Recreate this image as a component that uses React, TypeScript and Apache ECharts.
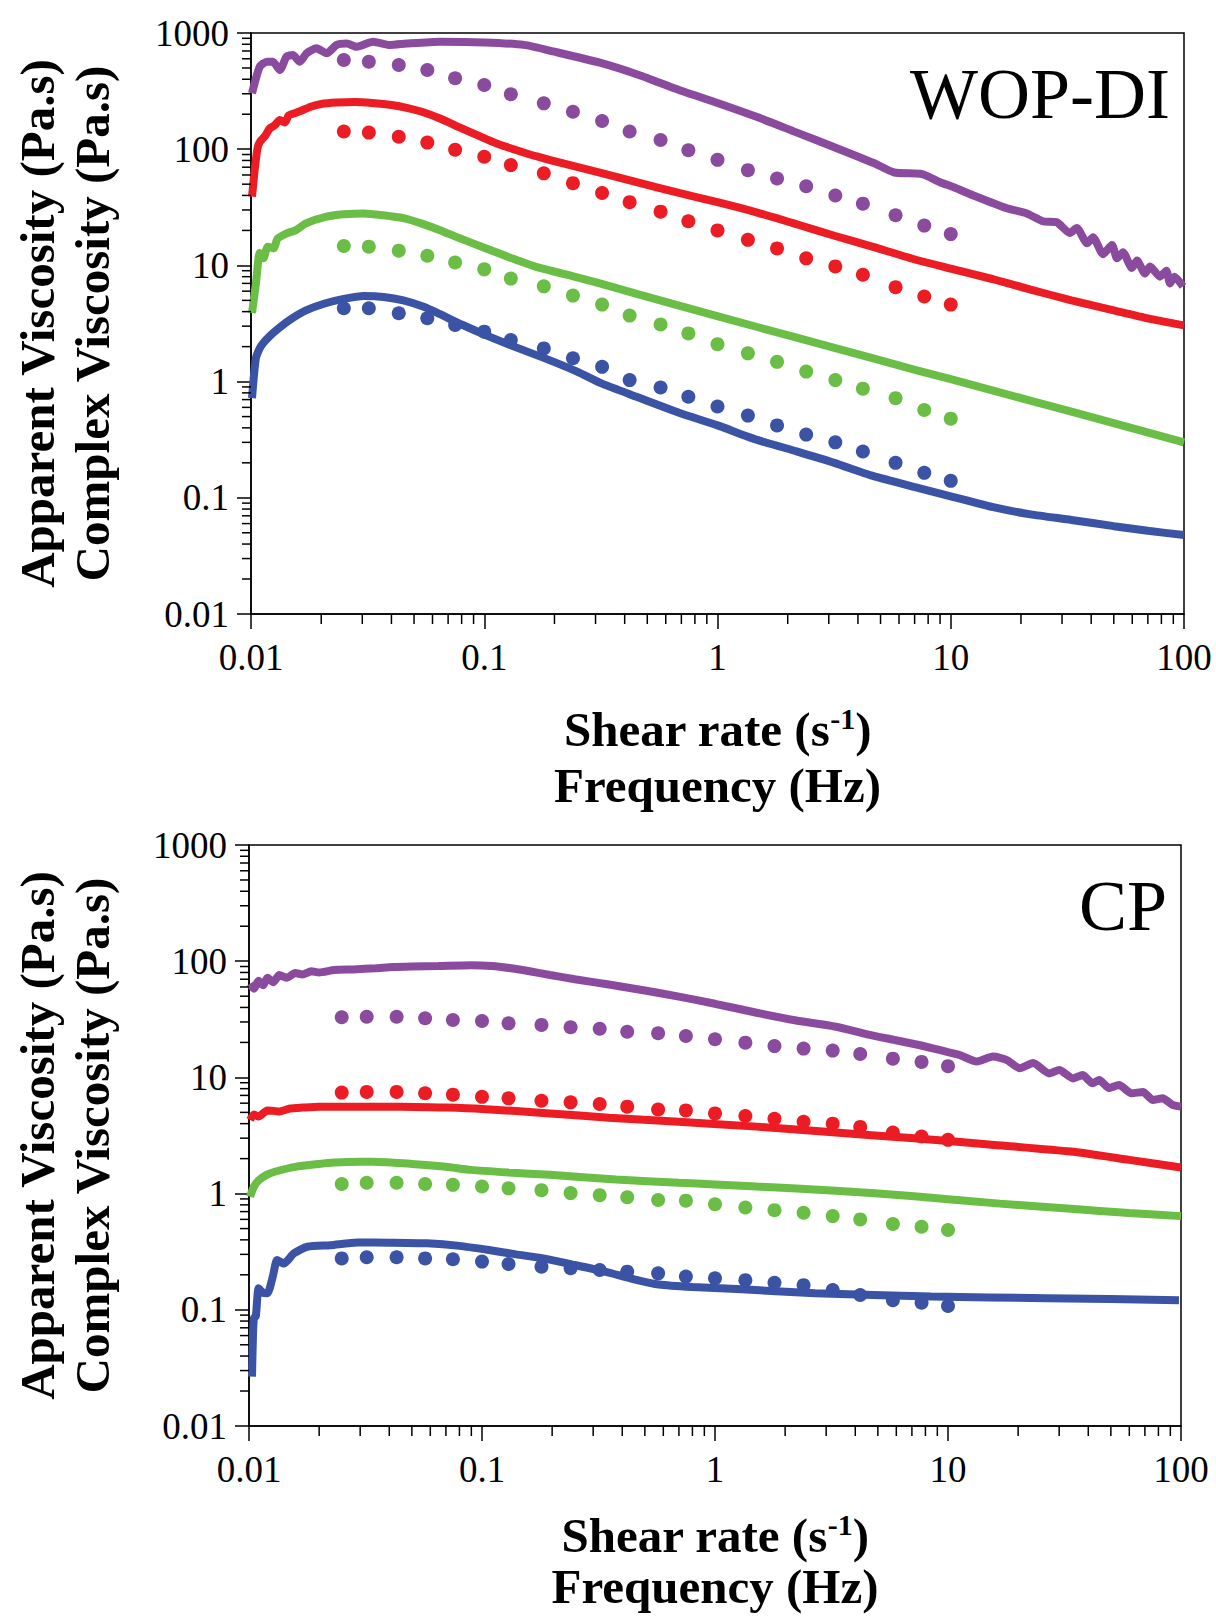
import React, { useEffect, useRef } from "react";
import * as echarts from "echarts";

const SERIF = "'Liberation Serif', 'Times New Roman', Times, serif";
const C_PURPLE = "#8a4b9e";
const C_RED = "#ec1c24";
const C_GREEN = "#6abd45";
const C_BLUE = "#3a53a4";

const xTickLabels = ["0.01", "0.1", "1", "10", "100"];
const yTickLabels = ["0.01", "0.1", "1", "10", "100", "1000"];
const xMinorDecades = [0.01, 0.1, 1, 10];
const yMinorDecades = [0.01, 0.1, 1, 10, 100];
const minorSteps = [2, 3, 4, 5, 6, 7, 8, 9];

const panelNames = ["WOP-DI", "CP"];
const yTitle1 = "Apparent Viscosity (Pa.s)";
const yTitle2 = "Complex Viscosity (Pa.s)";
const xTitle2 = "Frequency (Hz)";

// frequencies of the oscillatory (dot) measurements
const dotFreq = [0.025, 0.032, 0.043, 0.057, 0.075, 0.1, 0.13, 0.18, 0.24, 0.32, 0.42, 0.57, 0.75, 1.0, 1.35, 1.8, 2.4, 3.2, 4.2, 5.8, 7.7, 10];

// ---------- WOP-DI (top) ----------
const topPurpleDots = [586, 566, 530, 480, 408, 357, 297, 248, 210, 175, 142, 120, 98, 81, 66, 56, 48, 40, 34, 27, 22, 18.6];
const topRedDots = [142, 139, 128, 114, 99, 86, 73, 62, 51, 42, 35, 29, 24, 20, 16.6, 14, 11.5, 9.8, 8.3, 6.5, 5.4, 4.6];
const topGreenDots = [14.7, 14.5, 13.4, 12.1, 10.6, 9.25, 7.7, 6.6, 5.5, 4.6, 3.7, 3.1, 2.6, 2.1, 1.75, 1.48, 1.22, 1.03, 0.87, 0.72, 0.57, 0.48];
const topBlueDots = [4.28, 4.28, 3.87, 3.51, 3.07, 2.69, 2.28, 1.93, 1.59, 1.34, 1.03, 0.89, 0.74, 0.61, 0.51, 0.42, 0.35, 0.3, 0.25, 0.2, 0.164, 0.14];

const topPurpleLine = [
  [0.0101, 303], [0.0109, 513], [0.0117, 566], [0.0124, 566], [0.0133, 481], [0.0142, 625], [0.0151, 647],
  [0.0162, 566], [0.0173, 668], [0.0191, 738], [0.0211, 668], [0.0233, 789], [0.0257, 811], [0.0284, 762],
  [0.0333, 842], [0.0394, 789], [0.0465, 811], [0.0645, 842], [0.1, 830], [0.148, 790], [0.2, 690],
  [0.313, 555], [0.46, 435], [0.684, 323], [1.0, 250], [1.48, 189], [2.15, 141], [3.17, 104], [4.68, 76],
  [5.72, 63], [7.54, 61], [9.0, 52], [10.3, 47], [12.5, 40], [17.4, 31], [21.2, 28], [24.8, 24], [28.5, 23.5],
  [32.4, 19], [34.7, 21], [38.4, 15.5], [40.7, 17.5], [45, 12.5], [49.1, 15], [51.6, 11.5], [54.7, 13],
  [59.8, 9.5], [62.9, 11], [68, 8.5], [71.5, 9.8], [78.9, 8.0], [84, 9.0], [87.1, 7.0], [91, 8.0], [99, 6.6],
];
const topRedLine = [
  [0.0101, 39], [0.0104, 70], [0.0107, 105], [0.011, 118], [0.0115, 130], [0.012, 150], [0.0126, 160],
  [0.0133, 178], [0.014, 170], [0.0145, 195], [0.0155, 205], [0.0165, 215], [0.018, 232], [0.02, 245],
  [0.0233, 252], [0.028, 255], [0.033, 250], [0.04, 240], [0.047, 226], [0.054, 210], [0.065, 183],
  [0.078, 155], [0.095, 130], [0.113, 112], [0.14, 97], [0.167, 87], [0.22, 75], [0.313, 63], [0.45, 52],
  [0.684, 42], [1.0, 35], [1.48, 28.5], [2.2, 22.5], [3.17, 18], [4.6, 14.5], [6.96, 11.3], [10, 9.4],
  [15.2, 7.6], [22, 6.2], [32.9, 5.0], [50, 4.1], [70, 3.5], [100, 3.05],
];
const topGreenLine = [
  [0.0101, 3.9], [0.0105, 7], [0.0109, 12.8], [0.0113, 11.5], [0.0118, 14.5], [0.0125, 14], [0.013, 17],
  [0.0143, 19], [0.0155, 20], [0.0172, 23], [0.0207, 26], [0.025, 27.5], [0.0305, 28], [0.0368, 27],
  [0.045, 25.5], [0.0536, 23], [0.065, 20], [0.078, 17.2], [0.1, 14.2], [0.13, 11.6], [0.167, 9.7], [0.25, 7.9],
  [0.313, 7.0], [0.684, 4.5], [1.48, 2.95], [3.17, 1.95], [6.96, 1.27], [10, 1.05], [22.3, 0.68], [46, 0.46],
  [100, 0.3],
];
const topBlueLine = [
  [0.0101, 0.72], [0.0105, 1.6], [0.011, 2.0], [0.012, 2.45], [0.0135, 3.0], [0.015, 3.5], [0.0172, 4.1],
  [0.0207, 4.7], [0.025, 5.15], [0.0305, 5.45], [0.037, 5.35], [0.045, 5.0], [0.055, 4.4], [0.0646, 3.8],
  [0.08, 3.1], [0.102, 2.5], [0.13, 2.05], [0.18, 1.6], [0.25, 1.22], [0.32, 0.96], [0.45, 0.74],
  [0.684, 0.54], [1.0, 0.42], [1.48, 0.315], [2.2, 0.25], [3.17, 0.2], [4.6, 0.155], [6.96, 0.124],
  [10, 0.103], [15.2, 0.083], [22, 0.072], [32.9, 0.0645], [50, 0.057], [70, 0.052], [100, 0.0478],
];

// ---------- CP (bottom) ----------
const botPurpleDots = [32.9, 33.3, 33.3, 32.3, 31.2, 30.6, 29.2, 28.3, 27.0, 26.2, 24.7, 24.0, 22.7, 21.3, 19.9, 18.6, 17.7, 17.0, 15.9, 14.5, 13.6, 12.5];
const botRedDots = [7.4, 7.5, 7.5, 7.3, 7.1, 6.8, 6.6, 6.3, 6.1, 5.9, 5.6, 5.3, 5.2, 4.9, 4.65, 4.4, 4.15, 4.0, 3.75, 3.35, 3.1, 2.9];
const botGreenDots = [1.21, 1.24, 1.24, 1.21, 1.19, 1.15, 1.11, 1.07, 1.01, 0.97, 0.93, 0.88, 0.87, 0.81, 0.76, 0.72, 0.685, 0.64, 0.6, 0.547, 0.519, 0.486];
const botBlueDots = [0.277, 0.283, 0.283, 0.277, 0.272, 0.26, 0.248, 0.235, 0.228, 0.22, 0.213, 0.206, 0.193, 0.187, 0.18, 0.171, 0.163, 0.148, 0.134, 0.121, 0.115, 0.108];

const botPurpleLine = [
  [0.0101, 64], [0.0105, 58], [0.011, 68], [0.0115, 62], [0.012, 72], [0.0127, 66], [0.0135, 76],
  [0.0145, 72], [0.0158, 79], [0.017, 77], [0.0185, 82], [0.02, 80], [0.0232, 84], [0.028, 85], [0.035, 87],
  [0.0415, 89], [0.05, 90], [0.065, 91], [0.09, 92.5], [0.11, 91], [0.133, 87], [0.16, 82], [0.196, 76],
  [0.25, 70], [0.35, 63], [0.5, 56], [0.7, 49.5], [1.0, 43], [1.51, 36], [2.2, 31], [3.3, 27.3], [4.5, 23.5],
  [5.9, 21], [7.5, 19], [8.6, 17.8], [10, 16.5], [11.2, 15.6], [13.3, 13.7], [15.6, 15.1], [17.9, 14.1],
  [20.3, 12.0], [23.2, 13.3], [27.2, 10.8], [30, 11.6], [34.4, 9.8], [37.8, 10.5], [41.7, 8.9], [44.6, 9.5],
  [49.1, 8.1], [54.2, 8.6], [61.3, 7.3], [68.7, 7.5], [75.7, 6.4], [83.5, 6.6], [91.9, 5.8], [100, 5.6],
];
const botRedLine = [
  [0.0101, 4.3], [0.0105, 4.8], [0.011, 4.6], [0.012, 5.2], [0.0135, 5.1], [0.015, 5.4], [0.017, 5.5],
  [0.02, 5.6], [0.03, 5.6], [0.045, 5.6], [0.07, 5.5], [0.1, 5.35], [0.196, 4.9], [0.35, 4.5], [0.7, 4.15],
  [1.51, 3.77], [3.3, 3.35], [7.15, 2.99], [15, 2.65], [33.7, 2.3], [60, 1.95], [100, 1.68],
];
const botGreenLine = [
  [0.0101, 0.94], [0.0105, 1.15], [0.011, 1.3], [0.0119, 1.45], [0.013, 1.55], [0.0158, 1.7], [0.02, 1.8],
  [0.0232, 1.85], [0.03, 1.88], [0.0341, 1.88], [0.05, 1.8], [0.07, 1.7], [0.0897, 1.6], [0.13, 1.52],
  [0.196, 1.45], [0.376, 1.32], [0.7, 1.24], [1.0, 1.2], [1.51, 1.15], [3.3, 1.06], [7.15, 0.95],
  [16.7, 0.82], [33.7, 0.74], [60, 0.68], [100, 0.64],
];
const botBlueLine = [
  [0.0103, 0.0266], [0.0104, 0.06], [0.0105, 0.085], [0.0107, 0.088], [0.011, 0.153], [0.0115, 0.14],
  [0.012, 0.139], [0.0127, 0.2], [0.0132, 0.268], [0.0141, 0.25], [0.0156, 0.306], [0.0178, 0.349],
  [0.0224, 0.36], [0.0292, 0.38], [0.04, 0.378], [0.058, 0.373], [0.08, 0.355], [0.107, 0.327], [0.14, 0.3],
  [0.183, 0.277], [0.25, 0.243], [0.337, 0.213], [0.45, 0.183], [0.575, 0.165], [0.8, 0.157], [1.24, 0.151],
  [2.69, 0.139], [8.45, 0.13], [26.6, 0.126], [98, 0.121],
];

const GRIDS = [
  { left: 251, top: 33, width: 933, height: 581 },
  { left: 249, top: 845, width: 932, height: 581 },
];
// distance of the x-title lines below each grid
const X_TITLE_GAP = [115, 109];
const X_TITLE_LINE = [56, 51];

function labelFmt(labels: string[]) {
  return (v: number) => {
    const hit = labels.find((l) => Math.abs(Math.log10(Number(l)) - Math.log10(v)) < 1e-6);
    return hit ?? "";
  };
}

function minorTicks(gi: number, axis: "x" | "y") {
  const decades = axis === "x" ? xMinorDecades : yMinorDecades;
  const vals: number[] = [];
  decades.forEach((d) => minorSteps.forEach((m) => vals.push(m * d)));
  return {
    type: "custom",
    xAxisIndex: gi,
    yAxisIndex: gi,
    silent: true,
    clip: false,
    z: 5,
    data: vals.map((v) => (axis === "x" ? [v, 0.01] : [0.01, v])),
    renderItem: (_p: any, api: any) => {
      const pt = api.coord([api.value(0), api.value(1)]);
      const shape =
        axis === "x"
          ? { x1: pt[0], y1: pt[1], x2: pt[0], y2: pt[1] + 10 }
          : { x1: pt[0], y1: pt[1], x2: pt[0] - 9, y2: pt[1] };
      return { type: "line", shape, style: { stroke: "#000", lineWidth: 1.5 } };
    },
  };
}

function lineSeries(gi: number, data: number[][], color: string) {
  return {
    type: "line",
    xAxisIndex: gi,
    yAxisIndex: gi,
    data,
    symbol: "none",
    showSymbol: false,
    smooth: 0.2,
    lineStyle: { color, width: 8 },
    z: 2,
    silent: true,
  };
}

function dotSeries(gi: number, vals: number[], color: string) {
  return {
    type: "scatter",
    xAxisIndex: gi,
    yAxisIndex: gi,
    data: dotFreq.map((f, k) => [f, vals[k]]),
    symbolSize: 14,
    itemStyle: { color, opacity: 1 },
    z: 3,
    silent: true,
  };
}

function titleTexts(gi: number) {
  const g = GRIDS[gi];
  const cx = g.left + g.width / 2;
  const cy = g.top + g.height / 2;
  const xTitleY = g.top + g.height + X_TITLE_GAP[gi];
  const bold = { fontFamily: SERIF, fontWeight: "bold", fontSize: 49, fill: "#000" };
  return [
    {
      type: "text",
      x: 37,
      y: cy,
      rotation: Math.PI / 2,
      style: { ...bold, text: yTitle1, align: "center", verticalAlign: "middle" },
    },
    {
      type: "text",
      x: 92,
      y: cy,
      rotation: Math.PI / 2,
      style: { ...bold, text: yTitle2, align: "center", verticalAlign: "middle" },
    },
    {
      type: "text",
      x: cx,
      y: xTitleY,
      style: {
        text: "{b|Shear rate (s}{s|-1}{b|)}",
        align: "center",
        verticalAlign: "middle",
        fill: "#000",
        rich: {
          b: { fontFamily: SERIF, fontWeight: "bold", fontSize: 49, fill: "#000", lineHeight: 52 },
          s: { fontFamily: SERIF, fontWeight: "bold", fontSize: 30, fill: "#000", verticalAlign: "top", lineHeight: 30 },
        },
      },
    },
    {
      type: "text",
      x: cx,
      y: xTitleY + X_TITLE_LINE[gi],
      style: { ...bold, text: xTitle2, align: "center", verticalAlign: "middle" },
    },
    {
      type: "text",
      x: g.left + g.width - 14,
      y: g.top + 61,
      style: {
        text: panelNames[gi],
        fontFamily: SERIF,
        fontSize: 72,
        fill: "#000",
        align: "right",
        verticalAlign: "middle",
      },
    },
  ];
}

export default function App() {
  const ref = useRef<HTMLDivElement>(null);
  useEffect(() => {
    if (!ref.current) return;
    const chart = echarts.init(ref.current, undefined, { renderer: "svg" });
    const axisCommon = {
      type: "log",
      logBase: 10,
      axisLine: { show: true, onZero: false, lineStyle: { color: "#000", width: 1.5 } },
      splitLine: { show: false },
      minorTick: { show: false },
    };
    const xAxes = GRIDS.map((_g, gi) => ({
      ...axisCommon,
      gridIndex: gi,
      min: 0.01,
      max: 100,
      splitNumber: 4,
      axisTick: { show: true, length: 15, lineStyle: { color: "#000", width: 1.5 } },
      axisLabel: { fontFamily: SERIF, fontSize: 37, color: "#000", margin: 25, formatter: labelFmt(xTickLabels) },
    }));
    const yAxes = GRIDS.map((_g, gi) => ({
      ...axisCommon,
      gridIndex: gi,
      min: 0.01,
      max: 1000,
      splitNumber: 5,
      axisTick: { show: true, length: 14, lineStyle: { color: "#000", width: 1.5 } },
      axisLabel: { fontFamily: SERIF, fontSize: 37, color: "#000", margin: 22, formatter: labelFmt(yTickLabels) },
    }));
    const series: any[] = [
      minorTicks(0, "x"),
      minorTicks(0, "y"),
      minorTicks(1, "x"),
      minorTicks(1, "y"),
      lineSeries(0, topPurpleLine, C_PURPLE),
      lineSeries(0, topRedLine, C_RED),
      lineSeries(0, topGreenLine, C_GREEN),
      lineSeries(0, topBlueLine, C_BLUE),
      dotSeries(0, topPurpleDots, C_PURPLE),
      dotSeries(0, topRedDots, C_RED),
      dotSeries(0, topGreenDots, C_GREEN),
      dotSeries(0, topBlueDots, C_BLUE),
      lineSeries(1, botPurpleLine, C_PURPLE),
      lineSeries(1, botRedLine, C_RED),
      lineSeries(1, botGreenLine, C_GREEN),
      lineSeries(1, botBlueLine, C_BLUE),
      dotSeries(1, botPurpleDots, C_PURPLE),
      dotSeries(1, botRedDots, C_RED),
      dotSeries(1, botGreenDots, C_GREEN),
      dotSeries(1, botBlueDots, C_BLUE),
    ];
    chart.setOption({
      animation: false,
      backgroundColor: "#fff",
      grid: GRIDS.map((g) => ({ ...g, show: true, borderColor: "#000", borderWidth: 1.5, backgroundColor: "transparent" })),
      xAxis: xAxes,
      yAxis: yAxes,
      series,
      graphic: [...titleTexts(0), ...titleTexts(1)],
    });
    return () => chart.dispose();
  }, []);
  return (
    <div
      ref={ref}
      style={{ position: "absolute", left: 0, top: 0, width: 1216, height: 1620, background: "#fff" }}
    />
  );
}
